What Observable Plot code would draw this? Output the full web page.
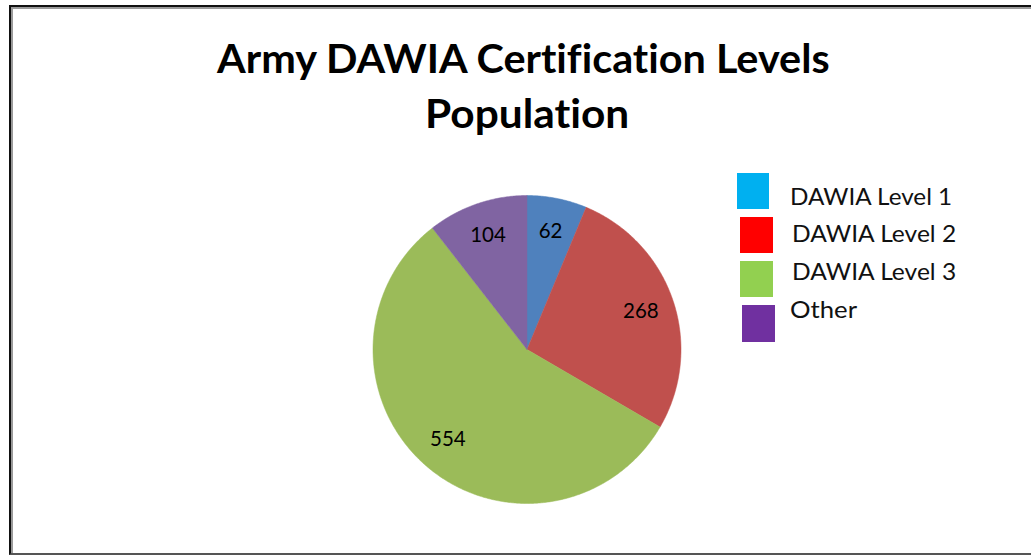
<!DOCTYPE html>
<html><head><meta charset="utf-8">
<script src="https://cdn.jsdelivr.net/npm/d3@7"></script>
<script src="https://cdn.jsdelivr.net/npm/@observablehq/plot@0.6"></script>
<style>
body{margin:0;background:#fff;}
#wrap{position:relative;width:1031px;height:556px;overflow:hidden;font-family:Lato,"Open Sans",sans-serif;background:#fff;font-variant-ligatures:none;font-feature-settings:"liga" 0,"clig" 0;}
#frame{position:absolute;left:9px;top:5px;width:1060px;height:550px;border-left:2px solid #111;border-top:2px solid #111;border-bottom:2px solid #555;box-shadow:inset 2px 2px 0 #9a9a9a;box-sizing:border-box;}
.tl{position:absolute;white-space:nowrap;font-weight:700;color:#000;transform-origin:0 0;line-height:1;}
.lg{position:absolute;white-space:nowrap;color:#111;transform-origin:0 0;line-height:1;}
.sw{position:absolute;}
#chart{position:absolute;left:0;top:0;}
#chart text{font-variant-ligatures:none;}
</style>
</head><body>
<div id="wrap"><div id="chart"></div><div id="frame"></div></div>
<script>
// ---- data ----
const categories = ["DAWIA Level 1", "DAWIA Level 2", "DAWIA Level 3", "Other"];
const values = [62, 268, 554, 104];
const pieColors = ["#4F81BD", "#C0504D", "#9BBB59", "#8064A2"];
const legendColors = ["#00B0F0", "#FF0000", "#92D050", "#7030A0"];
const titleLines = ["Army DAWIA Certification Levels", "Population"];

// ---- pie geometry from data ----
const arcs = d3.pie().sort(null).value(d => d.value)(categories.map((c, i) => ({category: c, value: values[i]})));
const polys = [];
arcs.forEach(a => {
  const n = Math.max(2, Math.ceil((a.endAngle - a.startAngle) / (Math.PI / 360)));
  polys.push({category: a.data.category, x: 0, y: 0});
  for (let k = 0; k <= n; k++) {
    const t = a.startAngle + (a.endAngle - a.startAngle) * k / n;
    polys.push({category: a.data.category, x: Math.sin(t), y: Math.cos(t)});
  }
  polys.push({category: a.data.category, x: 0, y: 0});
});
const labels = arcs.map(a => {
  const m = (a.startAngle + a.endAngle) / 2;
  return {x: 0.78 * Math.sin(m), y: 0.78 * Math.cos(m), text: String(a.data.value)};
});

const cx = 526.5, cy = 349, r = 154;
const plot = Plot.plot({
  width: 1031, height: 556, margin: 0,
  x: {domain: [-1, 1], range: [cx - r, cx + r], axis: null},
  y: {domain: [-1, 1], range: [cy + r, cy - r], axis: null},
  color: {domain: categories, range: pieColors},
  style: {background: "transparent"},
  marks: [
    Plot.line(polys, {x: "x", y: "y", z: "category", fill: "category", stroke: "category", strokeWidth: 0.5, curve: "linear"}),
    Plot.text(labels, {x: "x", y: "y", text: "text", fontSize: 20.5, fill: "#000", fontFamily: "Lato, sans-serif", textAnchor: "middle"})
  ]
});
document.getElementById("chart").appendChild(plot);

// ---- title and legend (HTML) ----
const wrap = document.getElementById("wrap");
const ctx = document.createElement("canvas").getContext("2d");
function place(cls, text, size, weight, left, right, baseline) {
  const el = document.createElement("div");
  el.className = cls;
  el.textContent = text;
  el.style.fontSize = size + "px";
  ctx.font = `${weight} ${size}px Lato`;
  const w = ctx.measureText(text).width;
  const sx = (right - left) / w;
  el.style.left = left + "px";
  el.style.top = (baseline - size * 0.887) + "px";
  el.style.transform = `scaleX(${sx})`;
  wrap.appendChild(el);
}
place("tl", titleLines[0], 40, 700, 217, 833, 73);
place("tl", titleLines[1], 40, 700, 425, 630, 128);

const sw = [[737,173,32,36],[740,217,33,36],[740,261,33,36],[742,305,33,37]];
const lgText = [[790,953,205],[792,957,242],[792,957,280],[790,857,318]];
categories.forEach((c, i) => {
  const s = document.createElement("div");
  s.className = "sw";
  s.style.cssText += `left:${sw[i][0]}px;top:${sw[i][1]}px;width:${sw[i][2]}px;height:${sw[i][3]}px;background:${legendColors[i]};`;
  wrap.appendChild(s);
  place("lg", c, 23, 400, lgText[i][0], lgText[i][1], lgText[i][2]);
});
</script>
</body></html>
